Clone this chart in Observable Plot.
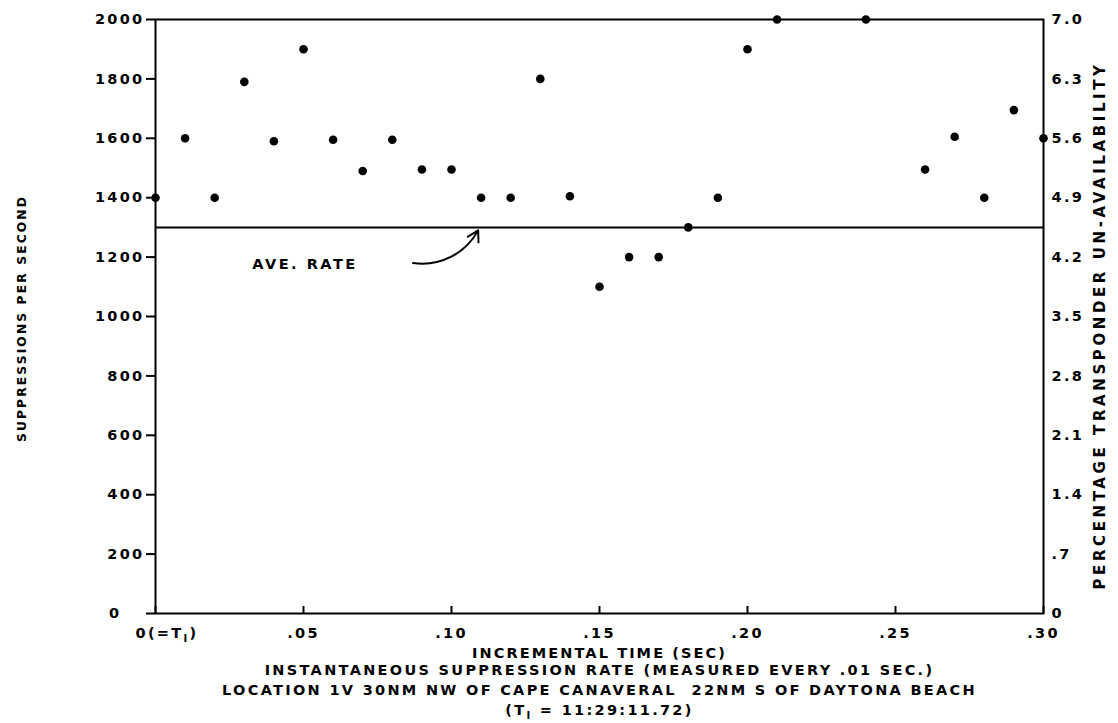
<!DOCTYPE html>
<html>
<head>
<meta charset="utf-8">
<script src="https://cdn.jsdelivr.net/npm/d3@7"></script>
<script src="https://cdn.jsdelivr.net/npm/@observablehq/plot@0.6"></script>
<style>
  html, body { margin: 0; padding: 0; background: #fff; }
  #chart svg { display: block; }
  #chart svg text { letter-spacing: 2.3px; }
</style>
</head>
<body>
<div id="chart"></div>
<script>
// Incremental time (sec) of each measurement
const times = [0.00, 0.01, 0.02, 0.03, 0.04, 0.05, 0.06, 0.07, 0.08, 0.09, 0.10,
               0.11, 0.12, 0.13, 0.14, 0.15, 0.16, 0.17, 0.18, 0.19, 0.20, 0.21,
               0.24, 0.26, 0.27, 0.28, 0.29, 0.30];
// Suppressions per second
const rates = [1400, 1600, 1400, 1790, 1590, 1900, 1595, 1490, 1595, 1495, 1495,
               1400, 1400, 1800, 1405, 1100, 1200, 1200, 1300, 1400, 1900, 2000,
               2000, 1495, 1605, 1400, 1695, 1600];
const aveRate = [1300];

const leftTicks = [0, 200, 400, 600, 800, 1000, 1200, 1400, 1600, 1800, 2000];
const rightTickLabels = ["0", ".7", "1.4", "2.1", "2.8", "3.5", "4.2", "4.9", "5.6", "6.3", "7.0"];
const xTicks = [0, 0.05, 0.10, 0.15, 0.20, 0.25, 0.30];
const xTickLabels = ["0(=TI)", ".05", ".10", ".15", ".20", ".25", ".30"];

const yTitle = ["SUPPRESSIONS PER SECOND"];
const y2Title = ["PERCENTAGE TRANSPONDER UN-AVAILABILITY"];
const xTitle = ["INCREMENTAL TIME (SEC)"];
const captionLines = [
  "INSTANTANEOUS SUPPRESSION RATE (MEASURED EVERY .01 SEC.)",
  "LOCATION 1V 30NM NW OF CAPE CANAVERAL  22NM S OF DAYTONA BEACH",
  "(TI = 11:29:11.72)"
];
const annotation = [{label: "AVE. RATE", x: 0.0505, y: 1175, x1: 0.087, y1: 1180, x2: 0.109, y2: 1290}];

const points = times.map((t, i) => ({t, r: rates[i]}));

const font = "'DejaVu Sans', Verdana, sans-serif";

const chart = Plot.plot({
  width: 1118,
  height: 723,
  marginLeft: 155,
  marginRight: 75,
  marginTop: 19,
  marginBottom: 110,
  style: {fontFamily: font, fontSize: "14.5px", fontWeight: "bold", color: "#000", background: "#fff"},
  x: {domain: [0, 0.30]},
  y: {domain: [0, 2000]},
  marks: [
    Plot.frame({stroke: "#000", strokeWidth: 2}),
    Plot.axisY({ticks: leftTicks, anchor: "left", tickSize: 9, tickPadding: 2, strokeWidth: 2,
                tickFormat: d => String(d), label: null, fontSize: 14.5}),
    Plot.axisY({ticks: leftTicks, anchor: "right", tickSize: 0, tickPadding: 8,
                tickFormat: d => rightTickLabels[leftTicks.indexOf(d)], label: null, fontSize: 14.5}),
    Plot.axisX({ticks: xTicks, anchor: "bottom", tickSize: 0, tickPadding: 14,
                tickFormat: d => xTickLabels[xTicks.findIndex(v => Math.abs(v - d) < 1e-9)], label: null, fontSize: 14.5}),
    Plot.tickX(xTicks, {x: d => d, stroke: "#000", strokeWidth: 2, insetTop: 587}),
    Plot.ruleY(aveRate, {stroke: "#000", strokeWidth: 2}),
    Plot.dot(points, {x: "t", y: "r", r: 4.3, fill: "#000"}),
    Plot.arrow(annotation, {x1: "x1", y1: "y1", x2: "x2", y2: "y2", bend: -35, stroke: "#000", strokeWidth: 2, headLength: 9}),
    Plot.text(annotation, {x: "x", y: "y", text: "label", fontSize: 14.5}),
    Plot.text(yTitle, {frameAnchor: "left", textAnchor: "middle", dx: -133, dy: 2, rotate: -90, text: d => d, fontSize: 12.3}),
    Plot.text(y2Title, {frameAnchor: "right", textAnchor: "middle", dx: 57, dy: 9, rotate: -90, text: d => d, fontSize: 15}),
    Plot.text(xTitle, {frameAnchor: "bottom", dy: 44, text: d => d, fontSize: 14.5}),
    Plot.text(captionLines, {frameAnchor: "bottom", text: d => d, fontSize: 14.5})
  ]
});

document.getElementById("chart").appendChild(chart);

// position caption lines, adjust spacing and draw the subscript I
const svg = d3.select(chart);
const spacing = {
  "AVE. RATE": "2.5px",
  "SUPPRESSIONS PER SECOND": "2.1px",
  "PERCENTAGE TRANSPONDER UN-AVAILABILITY": "3.6px",
  "INCREMENTAL TIME (SEC)": "2.1px"
};
svg.selectAll("text").each(function() {
  const t = d3.select(this);
  const s = this.textContent;
  if (spacing[s]) t.style("letter-spacing", spacing[s]);
  const idx = captionLines.indexOf(s);
  if (idx >= 0) {
    t.attr("y", (+t.attr("y") || 0) + 61 + idx * 20.3);
  }
  if (s.startsWith("0(=TI") || s.startsWith("(TI")) {
    const parts = s.split("TI");
    this.textContent = "";
    t.append("tspan").text(parts[0] + "T");
    t.append("tspan").attr("dy", 4).attr("font-size", "10px").text("I");
    t.append("tspan").attr("dy", -4).text(parts[1]);
    if (s.startsWith("0(=TI")) t.attr("text-anchor", "start").attr("dx", -20);
  }
});
// the zero label of the left axis sits further out in the original
svg.selectAll("g[aria-label='y-axis tick label']")
  .filter((d, i) => i === 0)
  .selectAll("text")
  .filter(function() { return this.textContent === "0"; })
  .each(function() {
    const t = d3.select(this);
    t.attr("transform", (t.attr("transform") || "") + " translate(-23,0)");
  });
</script>
</body>
</html>
